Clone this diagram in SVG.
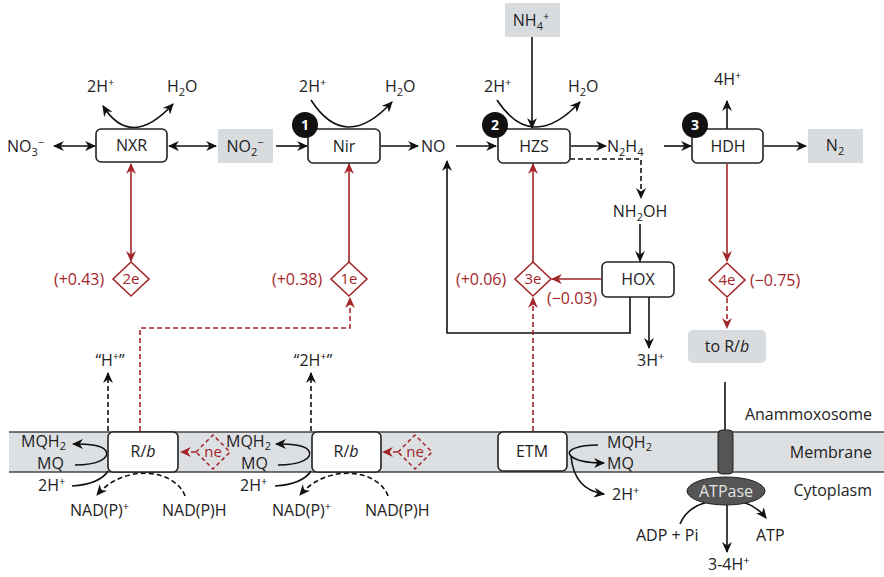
<svg xmlns="http://www.w3.org/2000/svg" width="884" height="577" viewBox="0 0 884 577">
<defs>
<style>
text{font-family:"Open Sans","Liberation Sans",sans-serif;font-size:16px;fill:#222}
.red{fill:#a3262a}
.sm{font-size:11px}
.c{text-anchor:middle}
.box{fill:#fff;stroke:#222;stroke-width:1.6}
.gbox{fill:#d9dcdf;stroke:none}
.ln{fill:none;stroke:#111;stroke-width:1.6}
.rl{fill:none;stroke:#a3262a;stroke-width:1.6}
.dash{stroke-dasharray:5 3}
.dia{fill:#fff;stroke:#a3262a;stroke-width:1.6}
.badge{fill:#111}
.bt{fill:#fff;font-weight:bold;font-size:14px;text-anchor:middle}
.dt{font-size:15px}
</style>
<marker id="ah" viewBox="0 0 10 10" refX="9" refY="5" markerWidth="11" markerHeight="11" markerUnits="userSpaceOnUse" orient="auto-start-reverse"><path d="M0,0.5 L10,5 L0,9.5 L3,5z" fill="#111"/></marker>
<marker id="ahr" viewBox="0 0 10 10" refX="9" refY="5" markerWidth="11" markerHeight="11" markerUnits="userSpaceOnUse" orient="auto-start-reverse"><path d="M0,0.5 L10,5 L0,9.5 L3,5z" fill="#a3262a"/></marker>
</defs>
<rect width="884" height="577" fill="#fff"/>

<g id="membrane">
<rect x="9" y="432" width="875" height="40" fill="#dde0e3"/>
<line x1="9" y1="432" x2="884" y2="432" stroke="#444" stroke-width="1.5"/>
<line x1="9" y1="472" x2="884" y2="472" stroke="#444" stroke-width="1.5"/>
</g>

<g id="connectors">
<line class="ln" x1="54" y1="146" x2="95" y2="146" marker-start="url(#ah)" marker-end="url(#ah)"/>
<line class="ln" x1="169" y1="146" x2="216" y2="146" marker-start="url(#ah)" marker-end="url(#ah)"/>
<line class="ln" x1="276" y1="146" x2="307" y2="146" marker-end="url(#ah)"/>
<line class="ln" x1="381" y1="146" x2="418" y2="146" marker-end="url(#ah)"/>
<line class="ln" x1="456" y1="146" x2="496" y2="146" marker-end="url(#ah)"/>
<line class="ln" x1="571" y1="146" x2="606" y2="146" marker-end="url(#ah)"/>
<line class="ln" x1="664" y1="146" x2="691" y2="146" marker-end="url(#ah)"/>
<line class="ln" x1="764" y1="146" x2="806" y2="146" marker-end="url(#ah)"/>
<path class="ln" d="M103,106 Q131,150 173,104" marker-start="url(#ah)" marker-end="url(#ah)"/>
<path class="ln" d="M311,100 Q345,153 392,102" marker-end="url(#ah)"/>
<path class="ln" d="M497,100 Q532,153 580,102" marker-end="url(#ah)"/>
<line class="ln" x1="532" y1="37" x2="532" y2="128" marker-end="url(#ah)"/>
<line class="ln" x1="727" y1="129" x2="727" y2="101" marker-end="url(#ah)"/>
<path class="ln dash" d="M570,159 H641 V198" marker-end="url(#ah)"/>
<line class="ln" x1="640" y1="224" x2="640" y2="261" marker-end="url(#ah)"/>
<path class="ln" d="M630,297 V333 H447 V161" marker-end="url(#ah)"/>
<line class="ln" x1="649" y1="297" x2="649" y2="348" marker-end="url(#ah)"/>
<line class="rl" x1="131" y1="164" x2="131" y2="261" marker-start="url(#ahr)" marker-end="url(#ahr)"/>
<line class="rl" x1="349" y1="262" x2="349" y2="164" marker-end="url(#ahr)"/>
<line class="rl" x1="533" y1="262" x2="533" y2="164" marker-end="url(#ahr)"/>
<line class="rl" x1="601" y1="279" x2="552" y2="279" marker-end="url(#ahr)"/>
<line class="rl" x1="727" y1="164" x2="727" y2="261" marker-end="url(#ahr)"/>
<line class="rl dash" x1="727" y1="298" x2="727" y2="328" marker-end="url(#ahr)"/>
<line class="rl dash" x1="533" y1="431" x2="533" y2="298" marker-end="url(#ahr)"/>
<path class="rl dash" d="M140,431 V328 H350 V298" marker-end="url(#ahr)"/>
<line class="rl dash" x1="196" y1="452" x2="181" y2="452" marker-end="url(#ahr)"/>
<line class="rl dash" x1="398" y1="452" x2="383" y2="452" marker-end="url(#ahr)"/>
<line class="ln dash" x1="108" y1="431" x2="108" y2="373" marker-end="url(#ah)"/>
<path class="ln" d="M75,465 C98,465 110,458 106,451 C102,445 90,444 73,444" marker-end="url(#ah)"/>
<path class="ln" d="M72,486 Q100,484 108,471"/>
<path class="ln dash" d="M185,496 C176,470 125,462 97,495" marker-end="url(#ah)"/>
<line class="ln dash" x1="311" y1="431" x2="311" y2="373" marker-end="url(#ah)"/>
<path class="ln" d="M278,465 C301,465 313,458 309,451 C305,445 293,444 276,444" marker-end="url(#ah)"/>
<path class="ln" d="M275,486 Q303,484 311,471"/>
<path class="ln dash" d="M388,496 C379,470 328,462 300,495" marker-end="url(#ah)"/>
<path class="ln" d="M598,445 C578,445 566,450 570,455 C575,461 590,463 604,463" marker-end="url(#ah)"/>
<path class="ln" d="M571,456 Q574,490 604,494" marker-end="url(#ah)"/>
<line class="ln" x1="725" y1="382" x2="725" y2="433"/>
<line class="ln" x1="727" y1="505" x2="727" y2="552" marker-end="url(#ah)"/>
<path class="ln" d="M680,524 Q690,500 727,500 Q752,500 766,518" marker-end="url(#ah)"/>
</g>

<g id="n-no3"><text x="7" y="152">NO<tspan class="sm" dy="4">3</tspan><tspan class="sm" dy="-10">−</tspan></text></g>
<g id="n-nxr">
<rect class="box" x="96" y="129" width="71" height="33" rx="5"/>
<text class="c" x="131.5" y="151">NXR</text>
<text x="87" y="92">2H<tspan class="sm" dy="-6">+</tspan></text>
<text x="167" y="92">H<tspan class="sm" dy="4">2</tspan><tspan dy="-4">O</tspan></text>
</g>
<g id="n-no2">
<rect class="gbox" x="218" y="129" width="55" height="34"/>
<text class="c" x="245" y="152">NO<tspan class="sm" dy="4">2</tspan><tspan class="sm" dy="-10">−</tspan></text>
</g>
<g id="n-nir">
<rect class="box" x="308" y="129" width="72" height="34" rx="5"/>
<text class="c" x="344" y="152">Nir</text>
<circle class="badge" cx="305" cy="125" r="13"/>
<text class="bt" x="305" y="130">1</text>
<text x="299" y="92">2H<tspan class="sm" dy="-6">+</tspan></text>
<text x="385" y="92">H<tspan class="sm" dy="4">2</tspan><tspan dy="-4">O</tspan></text>
</g>
<g id="n-no"><text x="421" y="152">NO</text></g>
<g id="n-nh4">
<rect class="gbox" x="505" y="3" width="55" height="34"/>
<text class="c" x="531" y="26">NH<tspan class="sm" dy="4">4</tspan><tspan class="sm" dy="-10">+</tspan></text>
</g>
<g id="n-hzs">
<rect class="box" x="498" y="129" width="72" height="34" rx="5"/>
<text class="c" x="534" y="152">HZS</text>
<circle class="badge" cx="495" cy="125" r="13"/>
<text class="bt" x="495" y="130">2</text>
<text x="484" y="92">2H<tspan class="sm" dy="-6">+</tspan></text>
<text x="568" y="92">H<tspan class="sm" dy="4">2</tspan><tspan dy="-4">O</tspan></text>
</g>
<g id="n-n2h4"><text x="607" y="152">N<tspan class="sm" dy="4">2</tspan><tspan dy="-4">H</tspan><tspan class="sm" dy="4">4</tspan></text></g>
<g id="n-hdh">
<rect class="box" x="692" y="129" width="71" height="34" rx="5"/>
<text class="c" x="728" y="152">HDH</text>
<circle class="badge" cx="695" cy="125" r="13"/>
<text class="bt" x="695" y="130">3</text>
<text x="714" y="85">4H<tspan class="sm" dy="-6">+</tspan></text>
</g>
<g id="n-n2">
<rect class="gbox" x="808" y="129" width="55" height="34"/>
<text class="c" x="835" y="151">N<tspan class="sm" dy="4">2</tspan></text>
</g>
<g id="n-nh2oh"><text class="c" x="640" y="217">NH<tspan class="sm" dy="4">2</tspan><tspan dy="-4">OH</tspan></text></g>
<g id="n-hox">
<rect class="box" x="602" y="262" width="72" height="35" rx="5"/>
<text class="c" x="638" y="285">HOX</text>
</g>
<g id="n-3h"><text x="637" y="366">3H<tspan class="sm" dy="-6">+</tspan></text></g>

<g id="d-2e">
<path class="dia" d="M113,279 L131,262 L149,279 L131,296z"/>
<text class="red c dt" x="131" y="284">2e</text>
<text class="red" x="54" y="285">(+0.43)</text>
</g>
<g id="d-1e">
<path class="dia" d="M331,279 L349,262 L367,279 L349,296z"/>
<text class="red c dt" x="349" y="284">1e</text>
<text class="red" x="272" y="285">(+0.38)</text>
</g>
<g id="d-3e">
<path class="dia" d="M515,279 L533,262 L551,279 L533,296z"/>
<text class="red c dt" x="533" y="284">3e</text>
<text class="red" x="456" y="285">(+0.06)</text>
<text class="red" x="547" y="304">(−0.03)</text>
</g>
<g id="d-4e">
<path class="dia" d="M709,280 L727,263 L745,280 L727,297z"/>
<text class="red c dt" x="727" y="285">4e</text>
<text class="red" x="750" y="286">(−0.75)</text>
</g>
<g id="n-torb">
<rect class="gbox" x="688" y="330" width="78" height="33" rx="5"/>
<text class="c" x="727" y="352">to R/<tspan font-style="italic">b</tspan></text>
</g>

<g id="n-rb1">
<rect class="box" x="108" y="432" width="70" height="40" rx="5"/>
<text class="c" x="143" y="457">R/<tspan font-style="italic">b</tspan></text>
<text class="c" x="110" y="366">“H<tspan class="sm" dy="-6">+</tspan><tspan dy="6">”</tspan></text>
<text x="21" y="447">MQH<tspan class="sm" dy="3">2</tspan></text>
<text x="37" y="469">MQ</text>
<text x="38" y="491">2H<tspan class="sm" dy="-6">+</tspan></text>
<text x="70" y="516">NAD(P)<tspan class="sm" dy="-6">+</tspan></text>
<text x="162" y="516">NAD(P)H</text>
</g>
<g id="n-ne1">
<path d="M196,452 L213,435 L230,452 L213,469z" fill="none" stroke="#a3262a" stroke-width="1.5" stroke-dasharray="4 3"/>
<text class="red c dt" x="213" y="457">ne</text>
</g>
<g id="n-rb2">
<rect class="box" x="312" y="432" width="69" height="40" rx="5"/>
<text class="c" x="346" y="457">R/<tspan font-style="italic">b</tspan></text>
<text class="c" x="313" y="366">“2H<tspan class="sm" dy="-6">+</tspan><tspan dy="6">”</tspan></text>
<text x="226" y="447">MQH<tspan class="sm" dy="3">2</tspan></text>
<text x="241" y="469">MQ</text>
<text x="240" y="491">2H<tspan class="sm" dy="-6">+</tspan></text>
<text x="272" y="516">NAD(P)<tspan class="sm" dy="-6">+</tspan></text>
<text x="365" y="516">NAD(P)H</text>
</g>
<g id="n-ne2">
<path d="M398,452 L415,435 L432,452 L415,469z" fill="none" stroke="#a3262a" stroke-width="1.5" stroke-dasharray="4 3"/>
<text class="red c dt" x="415" y="457">ne</text>
</g>
<g id="n-etm">
<rect class="box" x="498" y="432" width="69" height="39" rx="5"/>
<text class="c" x="532" y="457">ETM</text>
<text x="607" y="448">MQH<tspan class="sm" dy="3">2</tspan></text>
<text x="607" y="469">MQ</text>
<text x="612" y="500">2H<tspan class="sm" dy="-6">+</tspan></text>
</g>
<g id="n-atpase">
<rect x="718" y="430" width="15" height="44" rx="4" fill="#555" stroke="#222" stroke-width="1"/>
<ellipse cx="726" cy="491" rx="39" ry="14" fill="#555" stroke="#222" stroke-width="1"/>
<text class="c" x="726" y="497" style="fill:#e4e4e4">ATPase</text>
<text x="636" y="541">ADP + Pi</text>
<text x="756" y="541">ATP</text>
<text x="708" y="570">3-4H<tspan class="sm" dy="-6">+</tspan></text>
</g>
<g id="labels">
<text x="872" y="420" text-anchor="end">Anammoxosome</text>
<text x="872" y="458" text-anchor="end">Membrane</text>
<text x="872" y="496" text-anchor="end">Cytoplasm</text>
</g>
</svg>
